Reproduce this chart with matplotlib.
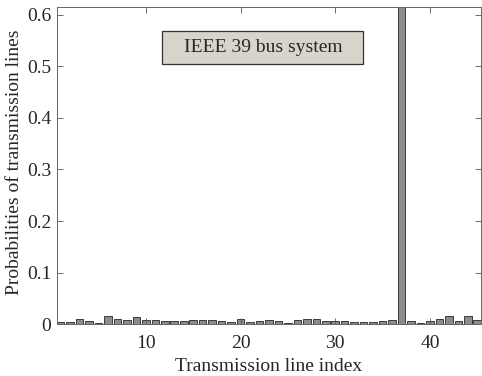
import numpy as np
import matplotlib.pyplot as plt
from matplotlib.patches import Rectangle

plt.rcParams['font.family'] = ['Liberation Serif', 'DejaVu Serif']

line_index = np.arange(1, 46)
probability = [0.004, 0.005, 0.009, 0.006, 0.003, 0.016, 0.009, 0.008, 0.013, 0.008,
               0.008, 0.007, 0.007, 0.006, 0.008, 0.008, 0.008, 0.007, 0.004, 0.009,
               0.005, 0.007, 0.008, 0.007, 0.003, 0.008, 0.010, 0.009, 0.006, 0.007,
               0.006, 0.005, 0.005, 0.005, 0.006, 0.008, 0.670, 0.007, 0.003, 0.007,
               0.009, 0.016, 0.006, 0.015, 0.008]

fig = plt.figure(figsize=(4.82, 3.76), dpi=100)
ax = fig.add_axes([0.118, 0.138, 0.880, 0.843])

ax.bar(line_index, probability, width=0.8, color='#8c8c8c', edgecolor='#3a3a3a', linewidth=0.7)

# tight limits around the bars, like MATLAB's axis tight
ax.set_xlim(0.6, 45.4)
ax.set_ylim(0, 0.615)
ax.set_xticks([10, 20, 30, 40])
ax.set_yticks([0, 0.1, 0.2, 0.3, 0.4, 0.5, 0.6])
ax.set_yticklabels(['0', '0.1', '0.2', '0.3', '0.4', '0.5', '0.6'])
ax.tick_params(direction='in', top=True, right=True, labelsize=14, length=4, width=0.6,
               colors='#555555', labelcolor='#262626')
ax.tick_params(axis='x', pad=8)
ax.tick_params(axis='y', pad=4)
for s in ax.spines.values():
    s.set_linewidth(0.7)
    s.set_color('#666666')

ax.set_xlabel('Transmission line index', fontsize=14, labelpad=4, color='#262626')
ax.set_ylabel('Probabilities of transmission lines', fontsize=14, color='#262626')
ax.yaxis.set_label_coords(-0.08, 0.51)

ax.add_patch(Rectangle((0.249, 0.820), 0.473, 0.104, transform=ax.transAxes,
                       facecolor='#d8d4cb', edgecolor='#333333', linewidth=0.9, zorder=3))
ax.text(0.486, 0.873, 'IEEE 39 bus system', transform=ax.transAxes, fontsize=14,
        ha='center', va='center', color='#262626', zorder=4)

fig.savefig('out.png', dpi=100)
